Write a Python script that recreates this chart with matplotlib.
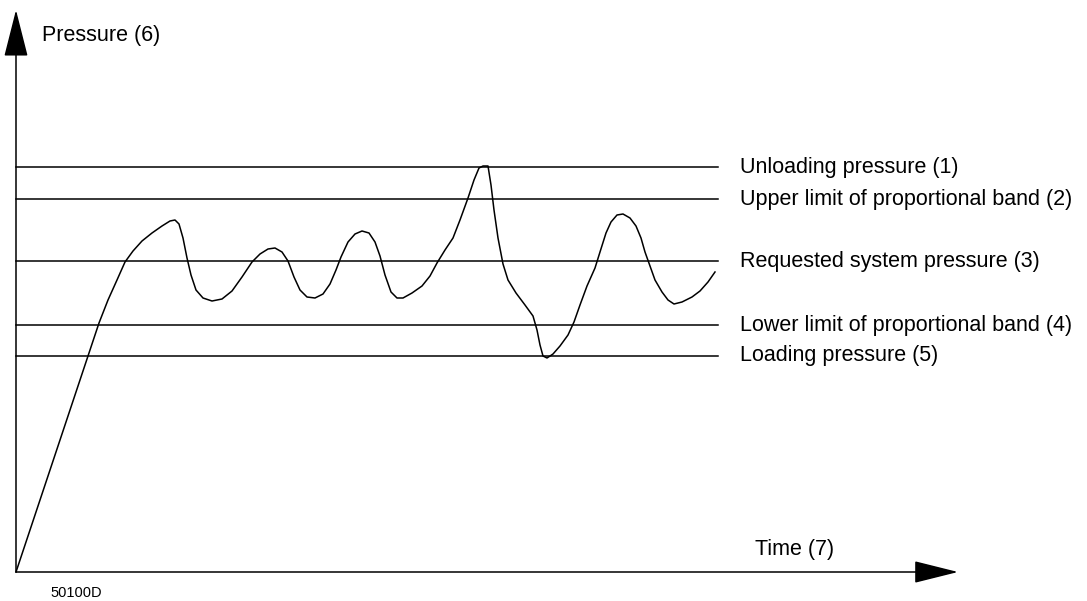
import matplotlib.pyplot as plt

# pressure levels (arbitrary units, origin of the diagram = 0)
level_names = ["Unloading pressure (1)", "Upper limit of proportional band (2)",
               "Requested system pressure (3)", "Lower limit of proportional band (4)",
               "Loading pressure (5)"]
level_values = [405, 373, 311, 247, 216]
level_end = 702

# system pressure over time
x_pts = [0, 83, 92, 101, 109, 117, 126, 136, 146, 154, 159, 163, 167, 171, 175, 180, 187,
         196, 206, 216, 226, 236, 244, 252, 259, 266, 272, 278, 284, 291, 299, 307, 314,
         320, 325, 332, 339, 346, 353, 359, 364, 369, 375, 381, 387, 396, 406, 414, 421,
         429, 437, 444, 452, 458, 463, 467, 472, 475, 478, 482, 487, 492, 500, 509, 517,
         521, 524, 527, 531, 537, 544, 552, 558, 564, 571, 579, 584, 590, 595, 601, 607,
         614, 620, 625, 629, 634, 639, 646, 652, 658, 666, 676, 684, 692, 699]
y_pts = [0, 249, 272, 292, 310, 321, 331, 339, 346, 351, 352, 348, 334, 314, 297, 282, 274,
         271, 273, 281, 295, 310, 318, 323, 324, 320, 311, 295, 282, 275, 274, 278, 288,
         302, 315, 330, 338, 341, 339, 330, 316, 297, 280, 274, 274, 279, 286, 296, 309,
         322, 334, 352, 374, 392, 404, 406, 406, 387, 362, 334, 308, 292, 279, 267, 256,
         242, 227, 216, 214, 218, 226, 237, 250, 267, 286, 304, 320, 339, 350, 357, 358,
         354, 346, 334, 320, 306, 292, 280, 272, 268, 270, 275, 281, 290, 300]

FONT = ["Liberation Sans", "DejaVu Sans"]
plt.rcParams["font.family"] = FONT

fig = plt.figure(figsize=(10.87, 6.01), dpi=100)
ax = fig.add_axes([0, 0, 1, 1])
ax.set_xlim(-16, 1071)
ax.set_ylim(-29, 572)
ax.axis("off")

for name, val in zip(level_names, level_values):
    ax.plot([0, level_end], [val, val], color="black", lw=1.1)
    ax.text(724, val, name, fontsize=15.5, va="center", ha="left", family=FONT)

ax.plot(x_pts, y_pts, color="black", lw=1.1)

# axes with arrow heads
ax.annotate("", xy=(0, 562), xytext=(0, 0),
            arrowprops=dict(arrowstyle="-|>,head_length=1.5,head_width=0.38",
                            mutation_scale=20, lw=1.1, color="black",
                            shrinkA=0, shrinkB=0))
ax.annotate("", xy=(942, 0), xytext=(0, 0),
            arrowprops=dict(arrowstyle="-|>,head_length=1.4,head_width=0.35",
                            mutation_scale=20, lw=1.1, color="black",
                            shrinkA=0, shrinkB=0))

ax.text(26, 537, "Pressure (6)", fontsize=15.5, va="center", ha="left", family=FONT)
ax.text(739, 22, "Time (7)", fontsize=15.5, va="center", ha="left", family=FONT)
ax.text(34, -21, "50100D", fontsize=10.5, va="center", ha="left", family=FONT)

fig.savefig("out.png", dpi=100, facecolor="white")
